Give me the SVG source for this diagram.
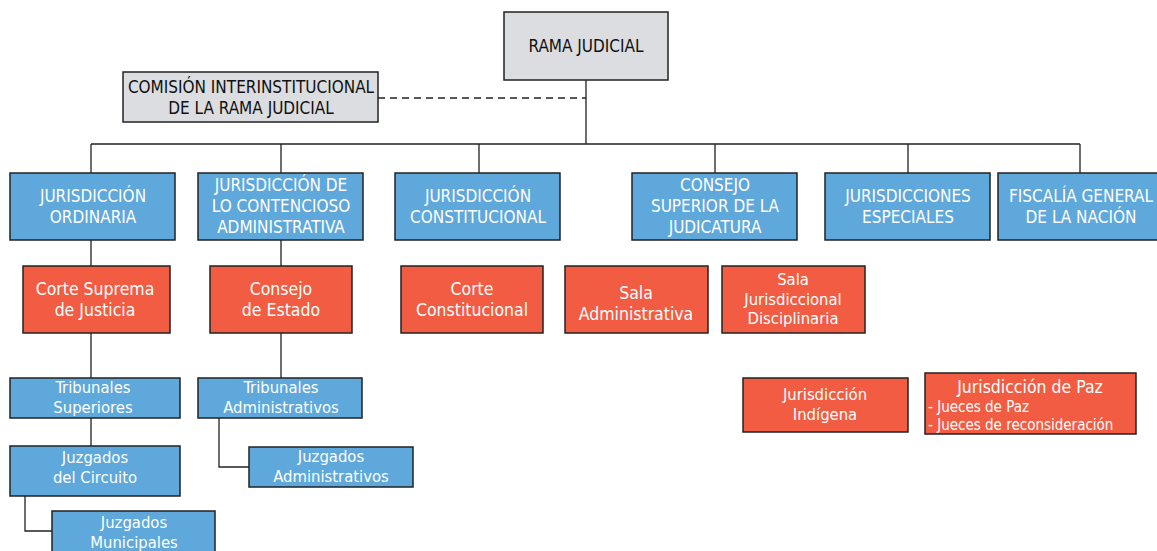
<svg xmlns="http://www.w3.org/2000/svg" width="1157" height="551" viewBox="0 0 1157 551">
<style>
text{font-family:"DejaVu Sans Condensed","DejaVu Sans",sans-serif;text-anchor:middle}
.g{fill:#dcdde0;stroke:#222;stroke-width:1.5}
.b{fill:#5ea8dc;stroke:#222;stroke-width:1.5}
.r{fill:#f15c42;stroke:#222;stroke-width:1.5}
.tg{fill:#111;font-size:17px}
.th{fill:#fff;font-size:17px}
.tr{fill:#fff;font-size:17.5px}
.tm{fill:#fff;font-size:16.5px}
.tl{fill:#fff;font-size:16.5px}
.ts{fill:#fff;font-size:15px;text-anchor:start}
.c{fill:none;stroke:#222;stroke-width:1.3}
</style>
<rect width="1157" height="551" fill="#fff"/>
<g id="connectors">
<path class="c" d="M586 80V144M91 144H1080M91 144V173M281 144V173M479 144V173M715 144V173M908 144V173M1080 144V173"/>
<path class="c" d="M378 98H586" stroke-dasharray="7 5"/>
<path class="c" d="M91 240V266M281 240V266M91 333V378M91 418V446M25 496V531H52M281 333V378M219 418V467H249"/>
</g>
<g id="rama"><rect class="g" x="504" y="12" width="164" height="68"/><text class="tg" x="586" y="52">RAMA JUDICIAL</text></g>
<g id="comision"><rect class="g" x="123" y="72" width="255" height="50"/><text class="tg" x="251" y="93">COMISIÓN INTERINSTITUCIONAL</text><text class="tg" x="251" y="114">DE LA RAMA JUDICIAL</text></g>
<g id="ordinaria"><rect class="b" x="10" y="173" width="165" height="67"/><text class="th" x="93" y="202">JURISDICCIÓN</text><text class="th" x="93" y="223">ORDINARIA</text></g>
<g id="contencioso"><rect class="b" x="198" y="173" width="165" height="67"/><text class="th" x="281" y="191">JURISDICCIÓN DE</text><text class="th" x="281" y="212">LO CONTENCIOSO</text><text class="th" x="281" y="233">ADMINISTRATIVA</text></g>
<g id="constitucional"><rect class="b" x="395" y="173" width="165" height="67"/><text class="th" x="478" y="202">JURISDICCIÓN</text><text class="th" x="478" y="223">CONSTITUCIONAL</text></g>
<g id="consejo-superior"><rect class="b" x="632" y="173" width="165" height="67"/><text class="th" x="715" y="191">CONSEJO</text><text class="th" x="715" y="212">SUPERIOR DE LA</text><text class="th" x="715" y="233">JUDICATURA</text></g>
<g id="especiales"><rect class="b" x="825" y="173" width="165" height="67"/><text class="th" x="908" y="202">JURISDICCIONES</text><text class="th" x="908" y="223">ESPECIALES</text></g>
<g id="fiscalia"><rect class="b" x="998" y="173" width="165" height="67"/><text class="th" x="1081" y="202">FISCALÍA GENERAL</text><text class="th" x="1081" y="223">DE LA NACIÓN</text></g>
<g id="corte-suprema"><rect class="r" x="23" y="266" width="147" height="67"/><text class="tr" x="95" y="295">Corte Suprema</text><text class="tr" x="95" y="316">de Justicia</text></g>
<g id="consejo-estado"><rect class="r" x="210" y="266" width="142" height="67"/><text class="tr" x="281" y="295">Consejo</text><text class="tr" x="281" y="316">de Estado</text></g>
<g id="corte-constitucional"><rect class="r" x="401" y="266" width="142" height="67"/><text class="tr" x="472" y="295">Corte</text><text class="tr" x="472" y="316">Constitucional</text></g>
<g id="sala-administrativa"><rect class="r" x="565" y="266" width="143" height="67"/><text class="tr" x="636" y="299">Sala</text><text class="tr" x="636" y="320">Administrativa</text></g>
<g id="sala-disciplinaria"><rect class="r" x="722" y="266" width="143" height="67"/><text class="tm" x="793" y="285">Sala</text><text class="tm" x="793" y="304.5">Jurisdiccional</text><text class="tm" x="793" y="324">Disciplinaria</text></g>
<g id="tribunales-superiores"><rect class="b" x="10" y="378" width="170" height="40"/><text class="tl" x="93" y="393">Tribunales</text><text class="tl" x="93" y="412.5">Superiores</text></g>
<g id="juzgados-circuito"><rect class="b" x="10" y="446" width="170" height="50"/><text class="tl" x="95" y="463">Juzgados</text><text class="tl" x="95" y="482.5">del Circuito</text></g>
<g id="juzgados-municipales"><rect class="b" x="52" y="511" width="163" height="45"/><text class="tl" x="134" y="528">Juzgados</text><text class="tl" x="134" y="547.5">Municipales</text></g>
<g id="tribunales-administrativos"><rect class="b" x="198" y="378" width="164" height="40"/><text class="tl" x="281" y="393">Tribunales</text><text class="tl" x="281" y="412.5">Administrativos</text></g>
<g id="juzgados-administrativos"><rect class="b" x="249" y="447" width="164" height="40"/><text class="tl" x="331" y="462">Juzgados</text><text class="tl" x="331" y="481.5">Administrativos</text></g>
<g id="indigena"><rect class="r" x="743" y="378" width="165" height="54"/><text class="tm" x="825" y="400">Jurisdicción</text><text class="tm" x="825" y="419.5">Indígena</text></g>
<g id="paz"><rect class="r" x="925" y="373" width="211" height="61"/><text class="tr" x="1030" y="393">Jurisdicción de Paz</text><text class="ts" x="928" y="412">- Jueces de Paz</text><text class="ts" x="928" y="429.5">- Jueces de reconsideración</text></g>
</svg>
